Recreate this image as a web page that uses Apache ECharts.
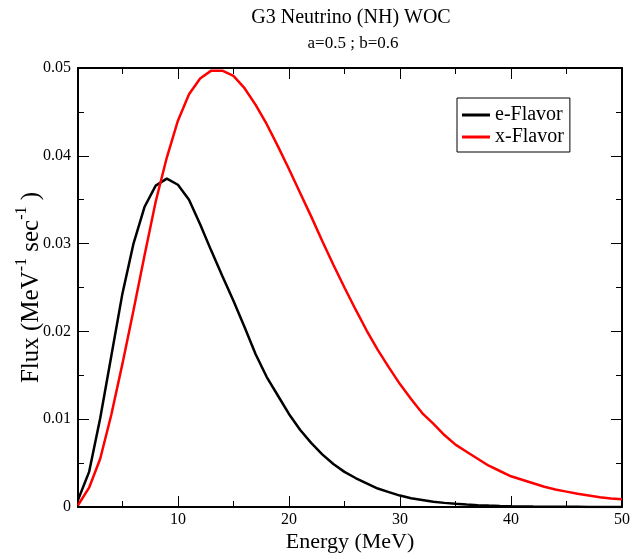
<!DOCTYPE html>
<html>
<head>
<meta charset="utf-8">
<script src="https://cdn.jsdelivr.net/npm/echarts@6/dist/echarts.min.js"></script>
<style>html,body{margin:0;padding:0;background:#fff;}#c{width:632px;height:559px;}</style>
</head>
<body>
<div id="c"></div>
<script>
var energy = [1,2,3,4,5,6,7,8,9,10,11,12,13,14,15,16,17,18,19,20,21,22,23,24,25,26,27,28,29,30,31,32,33,34,35,36,37,38,39,40,41,42,43,44,45,46,47,48,49,50];
var eFlavor = [0.0008,0.0040,0.0101,0.0172,0.0243,0.0300,0.0342,0.0366,0.0374,0.0367,0.0350,0.0322,0.0292,0.0263,0.0235,0.0205,0.0174,0.0148,0.0127,0.0106,0.0088,0.0073,0.0060,0.0049,0.0040,0.0033,0.0027,0.0021,0.0017,0.0013,0.0010,0.0008,0.0006,0.00047,0.00036,0.00028,0.00021,0.00016,0.00012,0.00009,0.00007,0.00005,0.00004,0.00003,0.00002,0.000015,0.00001,0.000008,0.000006,0.000004];
var xFlavor = [0.0002,0.0022,0.0055,0.0105,0.0163,0.0224,0.0287,0.0348,0.0398,0.0440,0.0470,0.0488,0.0497,0.0497,0.0491,0.0477,0.0458,0.0436,0.0411,0.0385,0.0358,0.0331,0.0303,0.0276,0.0250,0.0225,0.0201,0.0179,0.0159,0.0140,0.0123,0.0107,0.0095,0.0082,0.0071,0.0063,0.0055,0.0047,0.0041,0.0035,0.0031,0.0027,0.0023,0.0020,0.00175,0.0015,0.0013,0.0011,0.00098,0.00088];
var xMajorTicks = [10,20,30,40,50];
var xMinorTicks = [5,15,25,35,45];
var seriesNames = ['e-Flavor','x-Flavor'];

function pairs(v){ return energy.map(function(e,i){ return [e, v[i]]; }); }
var FONT = 'Liberation Serif';
var chart = echarts.init(document.getElementById('c'));
function xAx(pos, ticks, len, labels, showLine){
  return {
    type:'value', min:1, max:50, position:pos, gridIndex:0,
    axisLine:{show:showLine, onZero:false, lineStyle:{color:'#000', width:2}},
    axisTick:{show:true, inside:true, length:len, customValues:ticks, lineStyle:{color:'#000', width:1}},
    axisLabel:{show:labels, customValues:ticks, margin:5, color:'#000', fontFamily:FONT, fontSize:16},
    splitLine:{show:false}
  };
}
var xAxes = [xAx('bottom', xMajorTicks, 11, true, true), xAx('bottom', xMinorTicks, 6, false, false),
             xAx('top', xMajorTicks, 11, false, true), xAx('top', xMinorTicks, 6, false, false)];
xAxes[0].name = 'Energy (MeV)';
xAxes[0].nameLocation = 'middle';
xAxes[0].nameGap = 24;
xAxes[0].nameMoveOverlap = false;
xAxes[0].nameTextStyle = {color:'#000', fontFamily:FONT, fontSize:22};

function yAx(pos, labels){
  var a = {
    type:'value', min:0, max:0.05, interval:0.01, position:pos,
    axisLine:{show:true, onZero:false, lineStyle:{color:'#000', width:2}},
    axisTick:{show:true, inside:true, length:11, lineStyle:{color:'#000', width:1}},
    minorTick:{show:true, splitNumber:2, length:6, lineStyle:{color:'#000', width:1}},
    axisLabel:{show:labels, margin:7, color:'#000', fontFamily:FONT, fontSize:16,
      formatter:function(v){ return v===0 ? '0' : v.toFixed(2); }},
    splitLine:{show:false}, minorSplitLine:{show:false}
  };
  return a;
}
var yAxes = [yAx('left', true), yAx('right', false)];
yAxes[0].name = '{a|Flux (MeV}{s|-1}{a| sec}{s|-1}{a| )}';
yAxes[0].nameLocation = 'middle';
yAxes[0].nameGap = 34;
yAxes[0].nameMoveOverlap = false;
yAxes[0].nameTextStyle = {color:'#000', fontFamily:FONT, fontSize:25,
  rich:{a:{fontFamily:FONT, fontSize:25, color:'#000', lineHeight:30, verticalAlign:'bottom'},
        s:{fontFamily:FONT, fontSize:16, color:'#000', lineHeight:30, verticalAlign:'top'}}};

chart.setOption({
  animation:false,
  backgroundColor:'#fff',
  graphic:[
    {type:'text', x:351, y:8, style:{text:'G3 Neutrino (NH) WOC', font:'20px "Liberation Serif"', fill:'#000', textAlign:'center', textVerticalAlign:'top'}},
    {type:'text', x:353, y:35, style:{text:'a=0.5 ; b=0.6', font:'17px "Liberation Serif"', fill:'#000', textAlign:'center', textVerticalAlign:'top'}}
  ],
  grid:{left:78, right:10, top:68, bottom:52, containLabel:false, outerBoundsMode:'none'},
  legend:{
    left:457, top:98, orient:'vertical', data:seriesNames,
    backgroundColor:'#fff', borderColor:'#000', borderWidth:1, borderRadius:0,
    padding:[7,6,5,5], itemGap:2, itemWidth:28, itemHeight:3, icon:'rect',
    textStyle:{color:'#000', fontFamily:FONT, fontSize:20}
  },
  xAxis:xAxes,
  yAxis:yAxes,
  series:[
    {name:seriesNames[0], type:'line', xAxisIndex:0, yAxisIndex:0, data:pairs(eFlavor), symbol:'none', lineStyle:{color:'#000', width:2.5}, itemStyle:{color:'#000'}},
    {name:seriesNames[1], type:'line', xAxisIndex:0, yAxisIndex:0, data:pairs(xFlavor), symbol:'none', lineStyle:{color:'#ff0000', width:2.5}, itemStyle:{color:'#ff0000'}}
  ]
});
</script>
</body>
</html>
